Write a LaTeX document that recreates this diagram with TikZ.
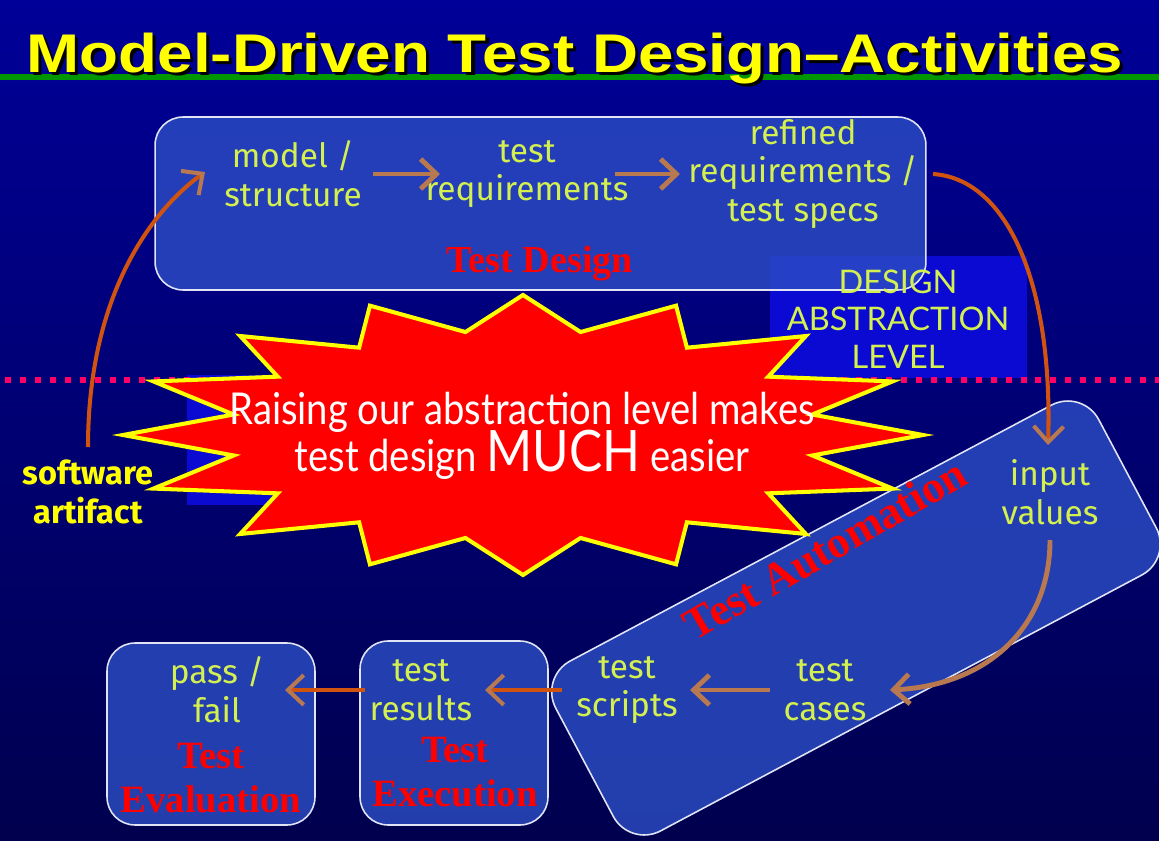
\documentclass[tikz,border=0pt]{standalone}
\usepackage{fontspec}
\setmainfont{Liberation Serif}
\newfontfamily\headfont{Liberation Sans}
\newfontfamily\sketchfont{Fira Sans}
\newfontfamily\handfont{Lato}
\usetikzlibrary{arrows.meta,calc}

% text with a dark drop shadow: #1 offset, #2 shadow colour, #3 text
\newcommand{\withshadow}[3]{\leavevmode\rlap{\kern#1\raisebox{-#1}{\color{#2}#3}}#3}

\definecolor{bgtop}{RGB}{0,0,152}
\definecolor{bgbot}{RGB}{0,0,78}
\definecolor{ttlyellow}{RGB}{255,255,0}
\definecolor{rulegreen}{RGB}{0,150,0}
\definecolor{boxfill}{RGB}{44,78,196}
\definecolor{boxline}{RGB}{225,228,245}
\definecolor{rectblue}{RGB}{10,10,210}
\definecolor{lime}{RGB}{212,240,80}
\definecolor{arrowtan}{RGB}{184,120,80}
\definecolor{arroworange}{RGB}{208,84,16}
\definecolor{dotpink}{RGB}{255,0,102}
\definecolor{starred}{RGB}{255,0,0}

\begin{document}
\begin{tikzpicture}[x=0.02cm, y=-0.02cm,
  lbl/.style={font=\sketchfont\fontsize{19}{22}\selectfont, text=lime, align=center, inner sep=0pt},
  phase/.style={font=\bfseries\fontsize{22}{26}\selectfont, text=starred, align=center, inner sep=0pt},
  stagebox/.style={draw=boxline, line width=0.9pt, fill=boxfill, fill opacity=0.8, rounded corners=0.56cm},
  levelrect/.style={fill=rectblue, draw=none},
  tanarrow/.style={draw=arrowtan, line width=2.8pt, -{Straight Barb[length=9pt,width=17pt]}},
  orangearrow/.style={draw=arroworange, line width=2.3pt, -{Straight Barb[length=9pt,width=17pt,color=arrowtan]}}
]
\useasboundingbox (0,0) rectangle (1159,841);
\shade[top color=bgtop, bottom color=bgbot] (0,0) rectangle (1159,841);

% heading with green rule
\draw[rulegreen, line width=3.4pt] (0,77) -- (1159,77);
\node[anchor=base, inner sep=0pt, text=ttlyellow,
      font=\headfont\bfseries\fontsize{31}{36}\selectfont] (title) at (575,73)
  {\scalebox{1.17}[1]{\withshadow{1.5pt}{black}{Model-Driven Test Design\textendash Activities}}};

% abstraction level panels
\node[levelrect, minimum width=5.14cm, minimum height=2.44cm] (levelrect) at (898.5,317) {};
\node[levelrect, minimum width=2.4cm, minimum height=2.6cm] (leftrect) at (247,440) {};

% test design stage
\node[stagebox, minimum width=15.42cm, minimum height=3.46cm] (designbox) at (540.5,203.5) {};

% level divider
\draw[dotpink, line width=3.4pt, dash pattern=on 3.4pt off 5.1pt] (5,380) -- (1159,380);

% test automation stage
\node[stagebox, rotate=28, minimum width=12.3cm, minimum height=3.85cm, rounded corners=0.7cm] (autobox) at (856,618) {};

% starburst
\filldraw[fill=starred, draw=ttlyellow, line width=2.3pt, miter limit=20]
  (923,435) \foreach \k in {1,...,15} {
    -- ({523+295*cos(\k*22.5-11.25)},{435-105*sin(\k*22.5-11.25)})
    -- ({523+400*cos(\k*22.5)},{435-140*sin(\k*22.5)}) }
  -- ({523+295*cos(348.75)},{435-105*sin(348.75)}) -- cycle;
\node[inner sep=0pt, align=center, text=white, font=\handfont\fontsize{25}{28}\selectfont] (claim) at (522,436)
  {\scalebox{0.87}[1]{Raising our abstraction level makes}\\[-2pt]
   \scalebox{0.87}[1]{test design \scalebox{1.3}{MUCH} easier}};

% execution and evaluation stages
\node[stagebox, minimum width=4.16cm, minimum height=3.64cm] (evalbox) at (211,734) {};
\node[stagebox, minimum width=3.76cm, minimum height=3.68cm] (execbox) at (454,733) {};

% stage names
\node[phase, font=\bfseries\fontsize{21.7}{26}\selectfont] (designname) at (540,263) {Test Design};
\node[phase, rotate=30, font=\bfseries\fontsize{25.5}{30}\selectfont] (autoname) at (825,549) {Test Automation};
\node[phase] (evalname) at (211,778) {Test\\[-1pt]Evaluation};
\node[phase] (execname) at (455,772) {Test\\[-1pt]Execution};

\node[inner sep=0pt, align=center, text=lime, font=\handfont\fontsize{18.5}{21.5}\selectfont] (levelname) at (898,319)
  {DESIGN\\ABSTRACTION\\LEVEL};

% artefacts
\node[lbl, text=ttlyellow, font=\sketchfont\bfseries\fontsize{18.5}{22}\selectfont] (sa) at (88,492) {software\\artifact};
\node[lbl] (ms)  at (293,174) {model /\\structure};
\node[lbl] (tr)  at (527,174) {test\\requirements};
\node[lbl] (rr)  at (803,174) {refined\\requirements /\\test specs};
\node[lbl] (iv)  at (1050,492) {input\\values};
\node[lbl] (tc)  at (825,690) {test\\cases};
\node[lbl] (ts)  at (627,690) {test\\scripts};
\node[lbl] (trs) at (421,690) {test\\results};
\node[lbl] (pf)  at (217,690) {pass /\\fail};

% flow
\draw[orangearrow] ($(sa.center)+(0,-45)$) .. controls +(0,-150) and +(-55,40) .. ($(ms.center)+(-88,-2)$);
\draw[tanarrow] ($(ms.center)+(80,0)$) -- ($(tr.center)+(-87,0)$);
\draw[tanarrow] ($(tr.center)+(88,0)$) -- ($(rr.center)+(-123,0)$);
\draw[orangearrow] ($(rr.center)+(130,0)$) .. controls +(75,5) and +(5,-160) .. ($(iv.center)+(-2,-47)$);
\draw[tanarrow] ($(iv.center)+(0,48)$) .. controls +(0,85) and +(100,-5) .. ($(tc.center)+(65,0)$);
\draw[tanarrow] ($(tc.center)+(-55,0)$) -- ($(ts.center)+(63,0)$);
\draw[orangearrow] ($(ts.center)+(-65,0)$) -- ($(trs.center)+(64,0)$);
\draw[orangearrow] ($(trs.center)+(-56,0)$) -- ($(pf.center)+(68,0)$);
\end{tikzpicture}
\end{document}
